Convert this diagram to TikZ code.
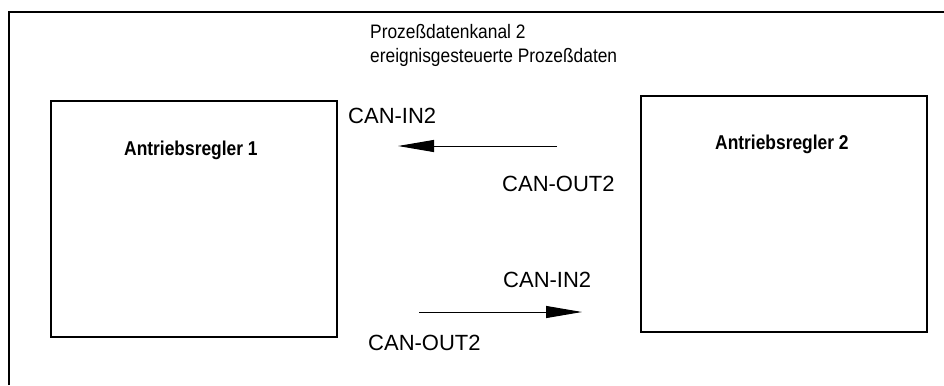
\documentclass[tikz,border=0pt]{standalone}
\usepackage{fontspec}
\setmainfont{Liberation Sans}
\newfontfamily\narrowfont[FakeStretch=0.89]{Liberation Sans}
\newfontfamily\narrowbold[FakeStretch=0.87]{Liberation Sans Bold}
\usetikzlibrary{arrows.meta}
\begin{document}
\begin{tikzpicture}[x=1bp,y=-1bp,
  regler/.style={draw,line width=2bp,minimum width=286bp,minimum height=236bp,inner sep=0pt},
  reglertext/.style={anchor=base west,inner sep=0pt,font=\narrowbold\fontsize{20bp}{24bp}\selectfont},
  titletext/.style={anchor=base west,inner sep=0pt,font=\narrowfont\fontsize{19.5bp}{24bp}\selectfont},
  cantext/.style={anchor=base west,inner sep=0pt,font=\fontsize{22bp}{26bp}\selectfont},
  flow/.style={line width=1bp,-{Triangle[length=36bp,width=12bp]}}]
\useasboundingbox (0,0) rectangle (944,385);
% open frame: left and top edges
\draw[line width=2bp] (8.5,385) -- (8.5,12) -- (944,12);
% heading
\node[titletext] (title1) at (370,38) {Prozeßdatenkanal 2};
\node[titletext] (title2) at (370,62) {ereignisgesteuerte Prozeßdaten};
% the two drive controllers
\node[regler] (ar1) at (194,219) {};
\node[regler] (ar2) at (784,214) {};
\node[reglertext] (ar1lbl) at (124,155) {Antriebsregler 1};
\node[reglertext] (ar2lbl) at (715,149) {Antriebsregler 2};
% upper channel: controller 2 -> controller 1
\coordinate (u1) at (557,146);
\coordinate (u2) at (398,146);
\draw[flow] (u1) -- (u2);
\node[cantext] (inA) at (348,123) {CAN-IN2};
\node[cantext] (outA) at (502,191) {CAN-OUT2};
% lower channel: controller 1 -> controller 2
\coordinate (l1) at (419,312);
\coordinate (l2) at (582,312);
\draw[flow] (l1) -- (l2);
\node[cantext] (inB) at (503,287) {CAN-IN2};
\node[cantext] (outB) at (368,350) {CAN-OUT2};
\end{tikzpicture}
\end{document}
